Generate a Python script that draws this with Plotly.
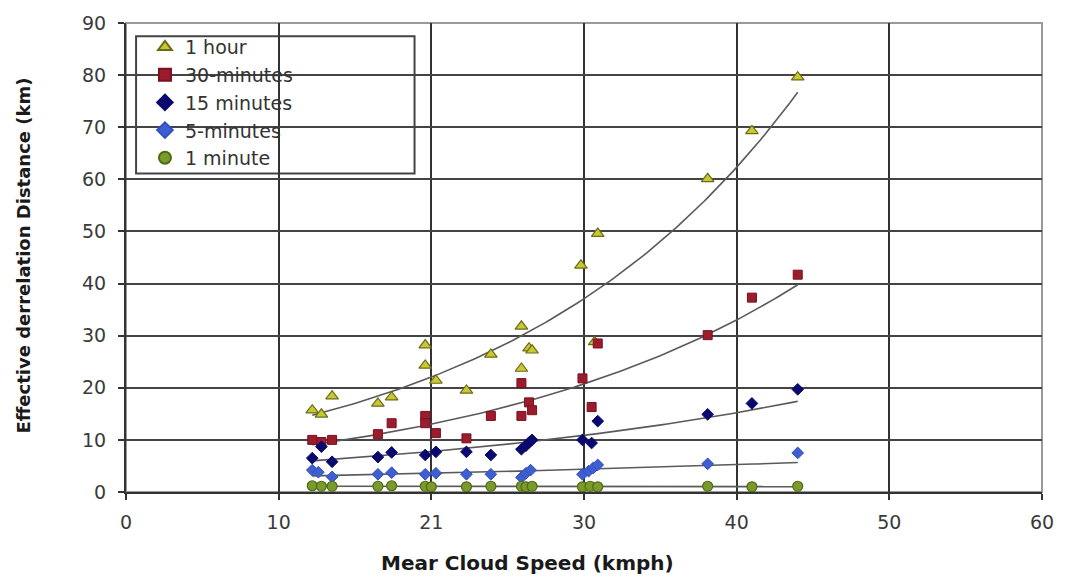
import numpy as np
import plotly.graph_objects as go

# ---- data ----
hour_x = [12.2, 12.8, 13.5, 16.5, 17.4, 19.6, 19.6, 20.3, 22.3, 23.9, 25.9, 25.9, 26.4, 26.6, 29.8, 30.9, 30.7, 38.1, 41.0, 44.0]
hour_y = [15.7, 14.9, 18.4, 17.0, 18.2, 28.2, 24.3, 21.4, 19.5, 26.4, 31.8, 23.7, 27.6, 27.2, 43.5, 49.6, 28.8, 60.1, 69.3, 79.6]

m30_x = [12.2, 12.8, 13.5, 16.5, 17.4, 19.6, 19.6, 20.3, 22.3, 23.9, 25.9, 25.9, 26.4, 26.6, 29.9, 30.5, 30.9, 38.1, 41.0, 44.0]
m30_y = [10.0, 9.6, 10.0, 11.1, 13.2, 14.6, 13.2, 11.3, 10.3, 14.6, 20.9, 14.6, 17.2, 15.7, 21.8, 16.3, 28.5, 30.1, 37.3, 41.7]

m15_x = [12.2, 12.8, 13.5, 16.5, 17.4, 19.6, 20.3, 22.3, 23.9, 25.9, 26.2, 26.4, 26.6, 29.9, 30.5, 30.9, 38.1, 41.0, 44.0]
m15_y = [6.5, 8.7, 5.8, 6.7, 7.6, 7.1, 7.7, 7.7, 7.1, 8.2, 8.9, 9.5, 10.0, 10.0, 9.4, 13.6, 14.9, 17.0, 19.7]

m5_x = [12.2, 12.6, 13.5, 16.5, 17.4, 19.6, 20.3, 22.3, 23.9, 25.9, 26.2, 26.5, 29.9, 30.3, 30.6, 30.9, 38.1, 44.0]
m5_y = [4.2, 3.8, 2.9, 3.4, 3.7, 3.4, 3.6, 3.4, 3.4, 2.8, 3.6, 4.2, 3.4, 4.0, 4.6, 5.2, 5.4, 7.5]

m1_x = [12.2, 12.8, 13.5, 16.5, 17.4, 19.6, 20.0, 22.3, 23.9, 25.9, 26.2, 26.6, 29.9, 30.4, 30.9, 38.1, 41.0, 44.0]
m1_y = [1.2, 1.1, 1.1, 1.1, 1.2, 1.1, 1.0, 1.0, 1.1, 1.1, 1.0, 1.1, 1.0, 1.1, 1.0, 1.1, 1.0, 1.1]

series_names = ["1 hour", "30-minutes", "15 minutes", "5-minutes", "1 minute"]
x_tick_vals = [0, 10, 20, 30, 40, 50, 60]
x_tick_labels = ["0", "10", "21", "30", "40", "50", "60"]
y_tick_vals = [0, 10, 20, 30, 40, 50, 60, 70, 80, 90]
x_title = "Mear Cloud Speed (kmph)"
y_title = "Effective derrelation Distance (km)"

FONT = "Arial, Liberation Sans, sans-serif"
WIDE = "DejaVu Sans, Arial, sans-serif"

styles = [
    dict(symbol="triangle-up", size=11, color="#c8c832", line=dict(color="#6b6b1a", width=1.2)),
    dict(symbol="square", size=9, color="#9b1c2c", line=dict(color="#7a1020", width=1)),
    dict(symbol="diamond", size=9, color="#0a0a6e", line=dict(color="#0a0a6e", width=1)),
    dict(symbol="diamond", size=9, color="#3f5fd0", line=dict(color="#3050c0", width=1)),
    dict(symbol="circle", size=10, color="#7a9a2a", line=dict(color="#4f6a18", width=1.2)),
]
data = [(hour_x, hour_y), (m30_x, m30_y), (m15_x, m15_y), (m5_x, m5_y), (m1_x, m1_y)]

fig = go.Figure()

# exponential trendlines fitted from the data (Excel-style)
for xs, ys in data:
    xa = np.array(xs); ya = np.array(ys)
    b, lna = np.polyfit(xa, np.log(ya), 1)
    xf = np.linspace(xa.min(), xa.max(), 120)
    fig.add_trace(go.Scatter(x=xf, y=np.exp(lna) * np.exp(b * xf), mode="lines",
                             line=dict(color="#5a5a5a", width=1.6),
                             showlegend=False, hoverinfo="skip"))

for name, (xs, ys), st in zip(series_names, data, styles):
    fig.add_trace(go.Scatter(x=xs, y=ys, mode="markers", name=name, marker=st))

fig.update_layout(
    width=1066, height=581,
    margin=dict(l=126, r=20, t=22, b=89),
    paper_bgcolor="white", plot_bgcolor="white",
    font=dict(family=FONT, size=18, color="#3a3a3a"),
    legend=dict(x=0.0207, y=0.989, xanchor="left", yanchor="top",
                bgcolor="rgba(0,0,0,0)", borderwidth=0,
                font=dict(family=WIDE, size=19, color="#333333"),
                itemsizing="constant", tracegroupgap=0),
    xaxis=dict(range=[0, 60], tickvals=x_tick_vals, ticktext=x_tick_labels,
               showgrid=True, gridcolor="#333333", gridwidth=2,
               showline=True, linecolor="#333333", linewidth=2,
               ticks="outside", ticklen=6, tickcolor="#333333", tickwidth=2,
               ticklabelstandoff=6, tickfont=dict(family=WIDE, size=19),
               zeroline=False),
    yaxis=dict(range=[0, 90], tickvals=y_tick_vals,
               showgrid=True, gridcolor="#444444", gridwidth=2,
               showline=True, linecolor="#333333", linewidth=2,
               ticks="outside", ticklen=6, tickcolor="#333333", tickwidth=2,
               ticklabelstandoff=8, tickfont=dict(family=WIDE, size=19),
               zeroline=False),
)

# axis titles
fig.add_annotation(text="<b>" + x_title + "</b>", xref="paper", yref="paper",
                   x=0.438, y=-0.152, xanchor="center", yanchor="middle", showarrow=False,
                   font=dict(family=WIDE, size=20, color="#1a1a1a"))
fig.add_annotation(text="<b>" + y_title + "</b>", xref="paper", yref="paper",
                   x=-0.112, y=0.505, xanchor="center", yanchor="middle", showarrow=False,
                   textangle=-90, font=dict(family=WIDE, size=18, color="#1a1a1a"))

# light frame on the top and right edges
fig.add_shape(type="rect", xref="paper", yref="paper", x0=0, y0=0, x1=1, y1=1,
              line=dict(color="#999999", width=2), layer="below")
# darker gridline at y = 10
fig.add_shape(type="line", xref="paper", yref="y", x0=0, x1=1, y0=y_tick_vals[1], y1=y_tick_vals[1],
              line=dict(color="#111111", width=2), layer="below")
# legend box
fig.add_shape(type="rect", xref="paper", yref="paper", x0=0.011, x1=0.315, y0=0.679, y1=0.972,
              fillcolor="white", line=dict(color="#444444", width=2), layer="between")

fig.write_html("out.html")
